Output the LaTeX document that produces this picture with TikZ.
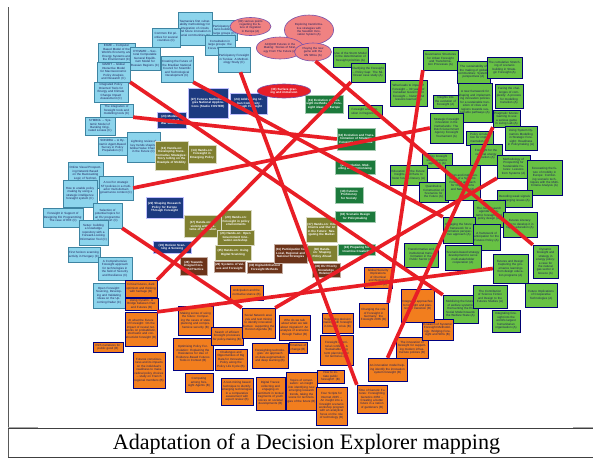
\documentclass[tikz,border=0pt]{standalone}
\usepackage{fontspec}
\setmainfont{Liberation Serif}
\newfontfamily\boxfont{Liberation Sans}
\usetikzlibrary{shapes.geometric,shadows,calc}

\definecolor{cyanbox}{RGB}{140,212,236}
\definecolor{cyanedge}{RGB}{62,132,162}
\definecolor{navybox}{RGB}{28,58,128}
\definecolor{olivebox}{RGB}{128,128,48}
\definecolor{brownbox}{RGB}{108,52,26}
\definecolor{dgreenbox}{RGB}{28,122,60}
\definecolor{lgreenbox}{RGB}{104,194,68}
\definecolor{orangebox}{RGB}{242,126,30}
\definecolor{pinkbox}{RGB}{240,130,130}
\definecolor{pinkedge}{RGB}{120,80,170}
\definecolor{redell}{RGB}{230,30,40}
\definecolor{redline}{RGB}{232,30,38}
\definecolor{darktext}{RGB}{30,30,90}

\tikzset{
  bxbase/.style={rectangle, inner sep=0.8pt, align=center, line width=0.35pt,
    font=\boxfont\fontsize{3.0}{3.45}\selectfont,
    drop shadow={shadow xshift=0.9pt, shadow yshift=-0.9pt, fill=black!75, opacity=0.9}},
  cbox/.style={bxbase, fill=cyanbox, draw=cyanedge, text=darktext},
  sbox/.style={bxbase, font=\boxfont\bfseries\fontsize{3.0}{3.45}\selectfont, text=white},
  nbox/.style={sbox, fill=navybox, draw=blue!25!white},
  obox/.style={sbox, fill=olivebox, draw=white!70!olivebox},
  rbox/.style={sbox, fill=brownbox, draw=white!60!brownbox},
  gbox/.style={sbox, fill=dgreenbox, draw=white!60!dgreenbox},
  lbox/.style={bxbase, fill=lgreenbox, draw=black!55!blue, text=darktext},
  abox/.style={bxbase, fill=orangebox, draw=black!50!blue, text=darktext},
  pell/.style={ellipse, inner sep=0pt, align=center, fill=pinkbox, draw=pinkedge, line width=0.6pt,
    font=\boxfont\fontsize{2.9}{3.3}\selectfont, text=darktext},
  rell/.style={ellipse, inner sep=0pt, align=center, fill=redell, draw=pinkedge, line width=0.6pt,
    font=\boxfont\bfseries\fontsize{3.0}{3.4}\selectfont, text=white},
  link/.style={draw=redline, line width=3.7pt},
  framerule/.style={draw=black!75, line width=0.8pt}
}

% box by its corners: name, style, x1, y1, x2, y2, text
\newcommand\mapbox[7]{%
  \pgfmathsetmacro\mbw{#5-#3}%
  \pgfmathsetmacro\mbh{#6-#4}%
  \pgfmathsetmacro\mbt{#5-#3-1.6}%
  \node[#2, minimum width=\mbw pt, minimum height=\mbh pt, text width=\mbt pt]
    (#1) at ({(#3+#5)/2},{(#4+#6)/2}) {#7};}
% ellipse by centre and radii: name, style, cx, cy, rx, ry, text
\newcommand\mapell[7]{%
  \pgfmathsetmacro\mew{2*#5}%
  \pgfmathsetmacro\meh{2*#6}%
  \pgfmathsetmacro\met{1.45*#5}%
  \node[#2, minimum width=\mew pt, minimum height=\meh pt, text width=\met pt]
    (#1) at (#3,#4) {#7};}

\begin{document}
\begin{tikzpicture}[x=1pt,y=-1pt]
\useasboundingbox (0,0) rectangle (593,459);
\fill[white] (0,0) rectangle (593,459);

% ---- modelling cluster (C)
\mapbox{c1}{cbox}{178}{12}{212}{45}{Tasmania's first vulnerability methodology for integration of circuits and future innovation in aerial communities (C)}
\mapbox{c2}{cbox}{152}{28}{180}{47}{Common EU priorities for several countries (C)}
\mapbox{c3}{cbox}{98}{43}{135}{63}{E3ME -- Computer Based Model of the World's Economy and Energy Systems and the Environment (C)}
\mapbox{c4}{cbox}{97}{62}{130}{82}{GIMOT -- Global Interactive Model for Macroeconomic Policy Analysis and Research (C)}
\mapbox{c5}{cbox}{94}{82}{128}{102}{Integrated Policy Oriented Tools for Energy and Climate Change Impact Assessment (C)}
\mapbox{c6}{cbox}{100}{104}{133}{117}{The integration of foresight tools and modelling tools (C)}
\mapbox{c7}{cbox}{85}{117}{115}{135}{SYMBOL -- Systemic Model of Banking Originated Losses (C)}
\mapbox{c8}{cbox}{130}{47}{160}{70}{DYNAMO -- Sectoral Computable General Equilibrium Model for Russian Regions (C)}
\mapbox{c9}{cbox}{161}{56}{193}{82}{Creating the Future of the Brazilian National Council for Scientific and Technological Development (C)}
\mapbox{c10}{cbox}{212}{20}{237}{40}{Participatory scenario building in large groups (C)}
\mapbox{c11}{cbox}{205}{35}{235}{55}{Consultation in large groups: the Focus Groups (C)}
\mapbox{c12}{cbox}{218}{47}{250}{72}{Participatory Foresight in Tunisia: A Methodology Study (C)}
\mapbox{c13}{cbox}{127}{132}{160}{162}{Lightning review of key trends shaping Global Value Chains in the Future (C)}
\mapbox{c14}{cbox}{98}{137}{127}{155}{SONDRA -- A Dynamic Agent-Based Survey in Policy Preparation (C)}
\mapbox{c15}{cbox}{68}{162}{103}{188}{Online Visual Prospecting Network Based on the Backcasting Logic of Technology Foresight (C)}
\mapbox{c16}{cbox}{63}{180}{97}{207}{How to enable policy making by using a strategic intelligence foresight system (C)}
\mapbox{c17}{cbox}{99}{176}{133}{200}{A tool for strategic STI policies in a multi-actor multi-domain governance context (C)}
\mapbox{c18}{cbox}{43}{208}{83}{227}{Foresight in Support of Designing EU Programming: The case of RRI (C)}
\mapbox{c19}{cbox}{93}{203}{122}{228}{Selection of potential topics for an EU programme in transport (C)}
\mapbox{c20}{cbox}{79}{220}{108}{245}{Setup: building a knowledge repository with a Forward-Looking Information Tool (C)}
\mapbox{c21}{cbox}{68}{247}{100}{262}{First horizon scanning activity in Hungary (C)}
\mapbox{c22}{cbox}{98}{257}{132}{280}{A Comprehensive Foresight approach for technologies in the field of Security and Resilience (C)}
\mapbox{c23}{cbox}{93}{283}{125}{308}{Open Foresight: Sourcing, Developing and Validating Ideas on the Upcoming Radar (C)}

% ---- navy session boxes
\mapbox{n1}{nbox}{188}{88}{228}{118}{(27) Futures Methodologies National Applications (Studio FOSTER)}
\mapbox{n2}{nbox}{157}{112}{186}{128}{(23) Modelling Outlook of War Scenarios}
\mapbox{n3}{nbox}{230}{93}{267}{114}{(24) Addressing Urban Complexity Through Foresight}
\mapbox{n4}{nbox}{146}{197}{183}{218}{(22) Shaping Research Policy for Europe Through Foresight}
\mapbox{n5}{nbox}{153}{241}{191}{253}{(19) Horizon Scanning \& Sensing}

% ---- olive hands-on boxes
\mapbox{v1}{obox}{155}{141}{188}{170}{(13) Hands-on: Developing Transformative Strategies: Story telling on the Example of Mobility}
\mapbox{v2}{obox}{188}{145}{216}{163}{(14) Hands-on: Foresight in Emerging Policy}
\mapbox{v3}{obox}{184}{215}{222}{237}{(17) Hands-on: Visioning with Systems of Innovation}
\mapbox{v4}{obox}{221}{210}{251}{232}{(20) Hands-on: Foresight in policy environments}
\mapbox{v5}{obox}{217}{230}{254}{245}{(21) Hands-on: Open Government Innovation workshop}
\mapbox{v6}{obox}{215}{245}{251}{260}{(25) Hands-on: Using Digital Scanning}
\mapbox{v7}{obox}{306}{217}{337}{242}{(37) Hands-on: Into Clients and Our AI in the Future: Navigating the Market}
\mapbox{v8}{obox}{307}{245}{337}{261}{(38) Hands-on: Shaping Policy Ahead}

% ---- brown boxes
\mapbox{r1}{rbox}{180}{257}{207}{275}{(28) Towards Integral Foresight Practice}
\mapbox{r2}{rbox}{214}{261}{245}{272}{(29) Systems of Values and Foresight}
\mapbox{r3}{rbox}{247}{262}{282}{273}{(30) Digital-Enhanced Foresight Methods}
\mapbox{r4}{rbox}{274}{244}{307}{263}{(31) Participation for Local, Regional and National Strategies}
\mapbox{r5}{rbox}{312}{263}{340}{277}{(35) EU Priority Knowledge Relations}

% ---- dark green session boxes
\mapbox{g1}{gbox}{305}{95}{343}{113}{(41) Evolution of Foresight methods and Foresight ideas for Europe}
\mapbox{g2}{gbox}{337}{128}{375}{150}{(32) Evolution and Transformation of Strategic Foresight communities}
\mapbox{g3}{gbox}{335}{160}{375}{174}{(33) Evolution, Modelling and Harmonising}
\mapbox{g4}{gbox}{335}{187}{363}{203}{(18) Futures Proficiency for Society}
\mapbox{g5}{gbox}{335}{211}{375}{222}{(16) Scenario Design for Policymaking}
\mapbox{g6}{gbox}{338}{244}{375}{255}{(10) Preparing for Inventive Creativity}

% ---- practice cluster (A)
\mapbox{a1}{lbox}{333}{47}{368}{67}{Use of the Storm Model in the determination of foresight priorities (A)}
\mapbox{a2}{lbox}{351}{63}{385}{82}{Clarifying the Foresight -- Policy Gap: The Nil-Ocean case study (A)}
\mapbox{a3}{lbox}{348}{105}{382}{118}{Foresight and Transition in Regions (A)}
\mapbox{a4}{lbox}{423}{50}{458}{70}{Governance Structures for Urban Foresight and Transformation Processes (A)}
\mapbox{a5}{lbox}{457}{61}{490}{83}{The sustainability of the making of global communities: Systems perspectives (A)}
\mapbox{a6}{lbox}{487}{57}{522}{78}{The cumulative Stretching of scenario building in Strategic Foresight (A)}
\mapbox{a7}{lbox}{390}{80}{427}{106}{What leads to impacts? Foresight -- 30 years of Canadian Government Foresight -- history and lessons learned (A)}
\mapbox{a8}{lbox}{433}{95}{458}{108}{Insights into the evolution of Foresight (A)}
\mapbox{a9}{lbox}{458}{83}{492}{122}{A new framework for shaping and implementing innovation policies for a sustainable transition of cities and regions towards sustainable pathways (A)}
\mapbox{a10}{lbox}{495}{84}{523}{108}{Facing the challenges of complexity: A process for modelling transition (A)}
\mapbox{a11}{lbox}{430}{113}{463}{143}{Strategic Foresight innovation in the Netherlands: The Dutch Government Agency Foresight Tournament (A)}
\mapbox{a12}{lbox}{493}{110}{520}{127}{Pragmatic futures: Gaming to use a serious game in Living Lab (A)}
\mapbox{a13}{lbox}{466}{131}{493}{145}{Policy simulation for implementation (A)}
\mapbox{a14}{lbox}{505}{126}{537}{150}{Using System Dynamics Modelling in Strategic Foresight: Readiness in Policymaking (A)}
\mapbox{a15}{lbox}{470}{144}{502}{165}{Foresight for the regional energy transition (A)}
\mapbox{a16}{lbox}{422}{153}{452}{168}{Policy foresight with a systemic approach (A)}
\mapbox{a17}{lbox}{390}{165}{427}{185}{Education for the Future: Insights and Plans to foster futures literacy (A)}
\mapbox{a18}{lbox}{419}{182}{448}{202}{Quantitative Construction of Scenarios for the Future (A)}
\mapbox{a19}{lbox}{445}{165}{480}{200}{Design and implementation of a Systems Foresight approach for Organisations and Networks (A)}
\mapbox{a20}{lbox}{497}{155}{530}{178}{Methodology of Prospecting for Sustainable Futures: Lessons from Systems (A)}
\mapbox{a21}{lbox}{527}{160}{562}{195}{Forecasting the future of mobility in Europe: Combining scenario techniques with the Multi-Criteria Analysis (A)}
\mapbox{a22}{lbox}{497}{190}{532}{207}{Decoding weak signals in emerging issues (A)}
\mapbox{a23}{lbox}{473}{200}{505}{227}{The next research agenda in systemic foresight and policy design (A)}
\mapbox{a24}{lbox}{443}{217}{475}{243}{Engaging the future: A framework for a normative perspective approach (A)}
\mapbox{a25}{lbox}{473}{224}{500}{250}{A framework of anticipation for the Futures Policy (A)}
\mapbox{a26}{lbox}{503}{212}{537}{237}{Futures Literacy: How to develop it in higher education (A)}
\mapbox{a27}{lbox}{533}{245}{558}{278}{Dynamic foresight and strategy in energy policy: a case for the natural gas sector in Greece (A)}
\mapbox{a28}{lbox}{404}{243}{438}{267}{Transformative and institutional transformation in the Public Sector (A)}
\mapbox{a29}{lbox}{445}{245}{481}{270}{Scenario-based strategy development to serve multi-stakeholder cooperation (A)}
\mapbox{a30}{lbox}{493}{254}{528}{283}{Futures and Design: Capturing the governance learnings from design education programs (A)}
\mapbox{a31}{lbox}{443}{295}{478}{323}{Mobilizing the futures of welfare systems: Reinventing the EU Social Model towards the Welfare State (A)}
\mapbox{a32}{lbox}{473}{285}{507}{308}{The Contribution of Science Fiction and Design to the Futures Studies (A)}
\mapbox{a33}{lbox}{525}{283}{557}{307}{Future Implications of Cooperative Technologies (A)}
\mapbox{a34}{lbox}{492}{310}{520}{332}{Integrating foresight into the world's largest humanitarian organisation (A)}

% ---- ellipses
\mapell{e1}{pell}{250.5}{26.5}{20}{9}{(80) various points regarding the future of migration in Europe (A)}
\mapell{e2}{pell}{309}{30}{24}{15}{Exploring transformative strategies with the Swedish Innovation System (A)}
\mapell{e3}{pell}{280}{48}{23}{11}{ACQUID Futures in the Making: Stories of Strategy From The Future (A)}
\mapell{e4}{pell}{313}{52}{18}{9}{Playing the new game with the UN SDGs (A)}
\mapell{s1}{rell}{284}{91}{26}{7}{(33) Surface grazing and immersion}

% ---- research cluster (B)
\mapbox{o1}{abox}{125}{280}{157}{297}{Critical futures, dark optimism and thinking with heritage (B)}
\mapbox{o2}{abox}{125}{298}{158}{310}{Using Cynefin: A Bridge between Past and Futures (B)}
\mapbox{o3}{abox}{125}{312}{157}{346}{At what the Future of Foresight: On the impact of neural networks on probabilistic, stochastic and constructivist foresight (B)}
\mapbox{o4}{abox}{93}{342}{123}{352}{Rich narratives for public good (B)}
\mapbox{o5}{abox}{133}{352}{165}{388}{Futures consciousness and its impacts on the individual's readiness to make radical policy choices -- study on French regional members (B)}
\mapbox{o6}{abox}{178}{306}{213}{335}{Making sense of using the future: Comparing the cases of state planning and comprehensive security (B)}
\mapbox{o7}{abox}{173}{338}{213}{370}{Optimising Policy Formulation: Explaining the Resistance for Use of Evidence-Based Futures Tools in Context (B)}
\mapbox{o8}{abox}{185}{373}{213}{392}{Computing among foresight Agents (B)}
\mapbox{o9}{abox}{211}{327}{243}{345}{Search of efficient foresight processes for policy-making (B)}
\mapbox{o10}{abox}{215}{349}{247}{370}{Challenges and Opportunities of Big Data for Innovation Policy along the Policy Life Cycle (B)}
\mapbox{o11}{abox}{230}{285}{263}{300}{Anticipation and the normative stance (B)}
\mapbox{o12}{abox}{242}{308}{275}{338}{Social Network analysis and text mining to identify innovation themes: supporting the Horizon Agenda (B)}
\mapbox{o13}{abox}{279}{315}{310}{340}{Who do we talk about when we talk about migration? An analysis of scenarios through Twitter (B)}
\mapbox{o14}{abox}{252}{343}{288}{368}{Foresighting technologies: An approach on data augmentation and deep learning (B)}
\mapbox{o15}{abox}{289}{342}{307}{353}{Timelines of change (B)}
\mapbox{o16}{abox}{322}{313}{353}{333}{Supporting decision making with foresight in times of crisis (B)}
\mapbox{o17}{abox}{320}{335}{353}{365}{Foresight in territorial conflicts: A Sustainable long term planning tool for territories (B)}
\mapbox{o18}{abox}{359}{303}{388}{327}{Changing the role of Foresight in Germany: the Foresight 2035 (B)}
\mapbox{o19}{abox}{364}{267}{392}{288}{Global Security Implications of Chemical and Biological Weapons (B)}
\mapbox{o20}{abox}{368}{358}{407}{381}{An innovation model helping identify the innovation system foresight (B)}
\mapbox{o21}{abox}{396}{337}{428}{358}{The innovation of foresight for supporting modern infrastructure policies (B)}
\mapbox{o22}{abox}{422}{319}{453}{340}{In search of Systemic Foresight Methodology: Bridging Foresight and SDG (B)}
\mapbox{o23}{abox}{401}{289}{434}{322}{Integrated approaches to foresight and planning in transition (B)}
\mapbox{o24}{abox}{221}{378}{253}{405}{A text-mining based technique to identify emerging technologies in a comparative assessment with expert review (B)}
\mapbox{o25}{abox}{256}{377}{285}{410}{Digital Traces: collecting and engaging on sentiment in textual fragments of youth voices on societal developments (B)}
\mapbox{o26}{abox}{286}{372}{317}{410}{Topics of conversation: an insight into identifying new emerging research trends, taking the scene for technologies of the future (B)}
\mapbox{o27}{abox}{317}{370}{344}{383}{How to initiate public foresight? (B)}
\mapbox{o28}{abox}{316}{387}{347}{425}{Four Scripts for Internet 2035 -- An insight into a foresight scenario workshop program with an analytical focus on the role of technology (B)}
\mapbox{o29}{abox}{357}{385}{387}{413}{Time of Genetic Futures: Foresighting Genetics 2050 -- Creating a better future in a nation of gardeners (B)}

% ---- links
\draw[link] (c4.south east) -- (a31.north west);
\draw[link] (c6.south east) -- (g2.west);
\draw[link] (c9.south east) -- (a24.north west);
\draw[link] (a20.south west) -- (o12.north east);
\draw[link] (a30.west) -- (o3.north east);
\draw[link] (a12.south west) -- (o20.north);
\draw[link] (a4.south west) -- (o18.north east);
\draw[link] ($(c12.south)!0.4!(c12.south east)$) -- (o29.north west);
\draw[link] (o1.north east) -- (a2.south west);
\draw[link] (c19.south east) -- (o12.north west);
\draw[link] (c17.east) -- (a11.west);
\draw[link] (e4.-75) -- (a27.north west);

% ---- frame and caption
\draw[draw=black!65, line width=1.1pt] (8.5,7) -- (8.5,457);
\draw[draw=black!35, line width=1.2pt] (8,427.4) -- (38,427.4);
\draw[draw=black!35, line width=1.2pt] (573,427.4) -- (593,427.4);
\draw[framerule] (8,428.6) -- (593,428.6);
\draw[framerule] (8,457) -- (593,457);
\node[anchor=base, inner sep=0pt, font=\fontsize{22.1}{24}\selectfont] (caption) at (306.5,449) {Adaptation of a Decision Explorer mapping};
\end{tikzpicture}
\end{document}
